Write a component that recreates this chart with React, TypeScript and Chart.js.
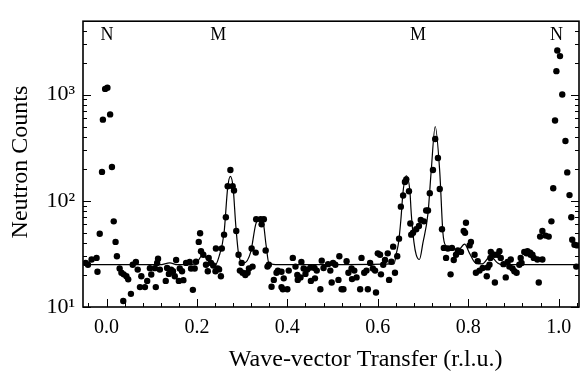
import React, { useEffect, useRef } from 'react';
import { Chart, registerables } from 'chart.js';

Chart.register(...registerables);

const FONT = "'Liberation Serif', 'Times New Roman', serif";

// measured scan (r.l.u., neutron counts)
const scanX = [
  -0.046, -0.041, -0.033, -0.022, -0.020, -0.015, -0.010, -0.008, -0.003, 0.002,
  0.008, 0.012, 0.016, 0.020, 0.023, 0.029, 0.033, 0.037, 0.038, 0.044,
  0.048, 0.054, 0.058, 0.065, 0.069, 0.074, 0.077, 0.085, 0.090, 0.096,
  0.099, 0.107, 0.109, 0.112, 0.114, 0.118, 0.131, 0.134, 0.138, 0.143,
  0.147, 0.151, 0.154, 0.160, 0.162, 0.167, 0.170, 0.176, 0.184, 0.187,
  0.191, 0.195, 0.198, 0.204, 0.207, 0.209, 0.214, 0.220, 0.224, 0.226,
  0.231, 0.236, 0.241, 0.242, 0.246, 0.249, 0.253, 0.255, 0.260, 0.264,
  0.268, 0.274, 0.279, 0.282, 0.287, 0.292, 0.295, 0.299, 0.301, 0.307,
  0.312, 0.315, 0.321, 0.323, 0.330, 0.331, 0.341, 0.343, 0.348, 0.352,
  0.356, 0.359, 0.365, 0.370, 0.376, 0.379, 0.387, 0.387, 0.390, 0.392,
  0.400, 0.403, 0.412, 0.418, 0.422, 0.423, 0.429, 0.431, 0.436, 0.440,
  0.444, 0.451, 0.452, 0.460, 0.461, 0.465, 0.473, 0.476, 0.480, 0.490,
  0.495, 0.498, 0.501, 0.506, 0.513, 0.515, 0.520, 0.524, 0.531, 0.535,
  0.542, 0.543, 0.548, 0.553, 0.561, 0.564, 0.570, 0.575, 0.578, 0.583,
  0.589, 0.594, 0.596, 0.600, 0.605, 0.607, 0.612, 0.616, 0.622, 0.625,
  0.630, 0.634, 0.638, 0.643, 0.647, 0.651, 0.656, 0.660, 0.663, 0.669,
  0.672, 0.674, 0.678, 0.685, 0.691, 0.695, 0.702, 0.707, 0.711, 0.715,
  0.722, 0.727, 0.733, 0.737, 0.742, 0.746, 0.751, 0.755, 0.761, 0.764,
  0.768, 0.773, 0.777, 0.784, 0.790, 0.793, 0.795, 0.803, 0.806, 0.814,
  0.817, 0.821, 0.825, 0.832, 0.841, 0.843, 0.847, 0.849, 0.850, 0.858,
  0.859, 0.865, 0.869, 0.872, 0.878, 0.883, 0.887, 0.891, 0.894, 0.898,
  0.902, 0.907, 0.913, 0.916, 0.918, 0.924, 0.929, 0.931, 0.937, 0.938,
  0.942, 0.945, 0.953, 0.956, 0.959, 0.964, 0.964, 0.971, 0.978, 0.984,
  0.988, 0.992, 0.995, 0.997, 1.003, 1.008, 1.015, 1.019, 1.024, 1.028,
  1.030, 1.035, 1.039, 1.041,
];
const scanCounts = [
  26, 25, 28, 29, 21.5, 49, 187, 580, 1130, 1160,
  650, 208, 64, 41, 30, 23, 21, 11.4, 20.3, 19.5,
  18.2, 13.3, 25, 26.5, 22.5, 15.4, 19.5, 15.4, 17.6, 23.2,
  20.2, 23.2, 15.4, 26, 28.5, 22.5, 17.6, 23.3, 20.5, 22.5,
  21.7, 19.5, 27.7, 17.6, 23, 21.7, 17.9, 26, 26.5, 23,
  14.5, 23, 26.7, 41, 49.5, 33.5, 31, 25, 21.7, 29,
  26, 24.6, 21.7, 35.5, 23, 22.6, 19.5, 35.5, 48, 70,
  137, 195, 137, 125, 52, 31, 22, 26, 21, 20,
  21, 23, 35.5, 24, 32.5, 67, 67, 60, 67, 34,
  24, 25, 15.5, 18, 21, 22, 21.5, 15.4, 14.7, 18.6,
  14.7, 22, 29, 24, 20, 18, 19, 26.5, 23, 20.5,
  22.5, 23.5, 17.6, 23.3, 18.6, 22, 14.7, 27.3, 23.3, 25.3,
  22, 17, 26, 25, 18, 30, 14.7, 14.7, 27, 21,
  23, 18.3, 22, 19, 14.7, 29, 21, 22, 14.7, 26,
  23, 22, 13.7, 32, 31, 20.3, 25, 27.7, 32, 18,
  26.7, 37, 21, 30, 44, 88, 112, 150, 159, 123,
  61, 48, 50, 54, 58, 66, 64, 81, 81, 118,
  195, 382, 253, 129, 54, 36, 29, 35.5, 20.3, 36,
  27.7, 31, 34, 33, 52, 50, 62, 38, 41, 31,
  21, 27, 22, 23.3, 19.5, 23.6, 25, 29, 33, 31,
  17, 31, 33.5, 29, 25.3, 19, 26.5, 24, 28, 23,
  21.7, 21, 25, 29, 26, 33, 32, 33.5, 32.5, 31,
  31, 29, 28, 17, 46, 52, 28, 47, 46, 64,
  131, 570, 1660, 2600, 2300, 1000, 365, 185, 113, 70,
  43, 38.5, 24, 38,
];

// fitted curve
const fitX = [
  -0.052, 0.118, 0.140, 0.157, 0.197, 0.213, 0.225, 0.238, 0.249, 0.260,
  0.268, 0.274, 0.280, 0.286, 0.293, 0.304, 0.319, 0.330, 0.338, 0.346,
  0.353, 0.359, 0.381, 0.636, 0.641, 0.646, 0.651, 0.656, 0.663, 0.671,
  0.674, 0.680, 0.685, 0.692, 0.700, 0.711, 0.718, 0.727, 0.737, 0.744,
  0.750, 0.766, 0.777, 0.792, 0.803, 0.816, 0.831, 0.849, 0.865, 0.876,
  1.045,
];
const fitCounts = [
  25, 25, 26, 25, 25.5, 31, 27, 24, 30, 50,
  133, 170, 133, 58, 30, 26, 33, 60, 68, 64,
  38, 26, 25, 25.5, 32, 40.6, 66, 123, 172, 123,
  76, 40.6, 31, 28, 40.6, 76, 188, 500, 188, 50,
  38, 36, 34, 39, 32, 26, 25.5, 30, 26, 25,
  25,
];

const xTickValues = [0, 0.2, 0.4, 0.6, 0.8, 1.0];
const xTickLabels = ['0.0', '0.2', '0.4', '0.6', '0.8', '1.0'];
const yTickValues = [10, 100, 1000];
const yTickLabels = ['10¹', '10²', '10³'];
const peakLabels = ['N', 'M', 'M', 'N'];
const peakLabelX = [0.001, 0.247, 0.689, 0.995];
const peakLabelY = 3600;
const xTitle = 'Wave-vector Transfer (r.l.u.)';
const yTitle = 'Neutron Counts';

const X_MIN = -0.052;
const X_MAX = 1.045;
const Y_MIN = 10;
const Y_MAX = 4900;
const X_MINOR_STEP = 0.04;

const framePlugin = {
  id: 'frameTicks',
  afterDraw(chart: any) {
    const { ctx, chartArea: a, scales } = chart;
    const xs = scales.x;
    const ys = scales.y;
    ctx.save();
    ctx.strokeStyle = '#000';
    ctx.lineWidth = 1.6;
    ctx.strokeRect(a.left, a.top, a.right - a.left, a.bottom - a.top);
    ctx.lineWidth = 1;
    ctx.beginPath();
    const start = Math.ceil(X_MIN / X_MINOR_STEP);
    const end = Math.floor(X_MAX / X_MINOR_STEP);
    for (let i = start; i <= end; i++) {
      const v = i * X_MINOR_STEP;
      const px = Math.round(xs.getPixelForValue(v)) + 0.5;
      const major = xTickValues.some((t) => Math.abs(t - v) < 1e-6);
      const len = major ? 8 : 4;
      ctx.moveTo(px, a.bottom);
      ctx.lineTo(px, a.bottom - len);
    }
    for (let d = 10; d < Y_MAX; d *= 10) {
      for (let m = 1; m <= 9; m++) {
        const v = d * m;
        if (v < Y_MIN || v > Y_MAX) continue;
        const py = Math.round(ys.getPixelForValue(v)) + 0.5;
        const len = m === 1 ? 8 : 4;
        ctx.moveTo(a.left, py);
        ctx.lineTo(a.left + len, py);
        ctx.moveTo(a.right, py);
        ctx.lineTo(a.right - len, py);
      }
    }
    ctx.stroke();
    ctx.fillStyle = '#000';
    ctx.font = `18px ${FONT}`;
    ctx.textAlign = 'center';
    ctx.textBaseline = 'middle';
    peakLabels.forEach((t, i) => {
      ctx.fillText(t, xs.getPixelForValue(peakLabelX[i]), ys.getPixelForValue(peakLabelY));
    });
    ctx.font = `24px ${FONT}`;
    ctx.fillText(xTitle, a.left + (a.right - a.left) * 0.57, a.bottom + 53);
    ctx.translate(21, (a.top + a.bottom) / 2 - 2);
    ctx.rotate(-Math.PI / 2);
    ctx.fillText(yTitle, 0, 0);
    ctx.restore();
  },
};

export default function App() {
  const ref = useRef<HTMLCanvasElement | null>(null);
  useEffect(() => {
    if (!ref.current) return;
    const chart = new Chart(ref.current, {
      data: {
        datasets: [
          {
            type: 'scatter',
            data: scanX.map((x, i) => ({ x, y: scanCounts[i] })),
            pointRadius: 3.2,
            pointBackgroundColor: '#000',
            pointBorderWidth: 0,
            order: 1,
          },
          {
            type: 'line',
            data: fitX.map((x, i) => ({ x, y: fitCounts[i] })),
            borderColor: '#000',
            borderWidth: 1.2,
            pointRadius: 0,
            cubicInterpolationMode: 'monotone',
            fill: false,
            order: 2,
          },
        ],
      } as any,
      options: {
        animation: false,
        responsive: false,
        maintainAspectRatio: false,
        layout: { padding: { top: 10, right: 1, left: 0, bottom: 0 } },
        plugins: { legend: { display: false }, tooltip: { enabled: false } },
        scales: {
          x: {
            type: 'linear',
            min: X_MIN,
            max: X_MAX,
            grid: { display: false, drawTicks: false },
            border: { display: false },
            afterBuildTicks: (s: any) => {
              s.ticks = xTickValues.map((v) => ({ value: v }));
            },
            afterFit: (s: any) => {
              s.height = 69;
            },
            ticks: {
              padding: 9,
              color: '#000',
              font: { family: FONT, size: 20 },
              maxRotation: 0,
              autoSkip: false,
              callback: (v: any) => {
                const i = xTickValues.findIndex((t) => Math.abs(t - v) < 1e-6);
                return i >= 0 ? xTickLabels[i] : '';
              },
            },
            title: { display: false },
          },
          y: {
            type: 'logarithmic',
            min: Y_MIN,
            max: Y_MAX,
            grid: { display: false, drawTicks: false },
            border: { display: false },
            afterBuildTicks: (s: any) => {
              s.ticks = yTickValues.map((v) => ({ value: v }));
            },
            afterFit: (s: any) => {
              s.width = 83;
            },
            ticks: {
              padding: 8,
              color: '#000',
              font: { family: FONT, size: 22 },
              autoSkip: false,
              callback: (v: any) => {
                const i = yTickValues.indexOf(Number(v));
                return i >= 0 ? yTickLabels[i] : '';
              },
            },
            title: { display: false },
          },
        },
      },
      plugins: [framePlugin],
    } as any);
    return () => chart.destroy();
  }, []);
  return (
    <div style={{ position: 'fixed', left: 0, top: 0, width: 583, height: 376, background: '#fff' }}>
      <canvas ref={ref} width={583} height={376} style={{ width: 583, height: 376, display: 'block' }} />
    </div>
  );
}
